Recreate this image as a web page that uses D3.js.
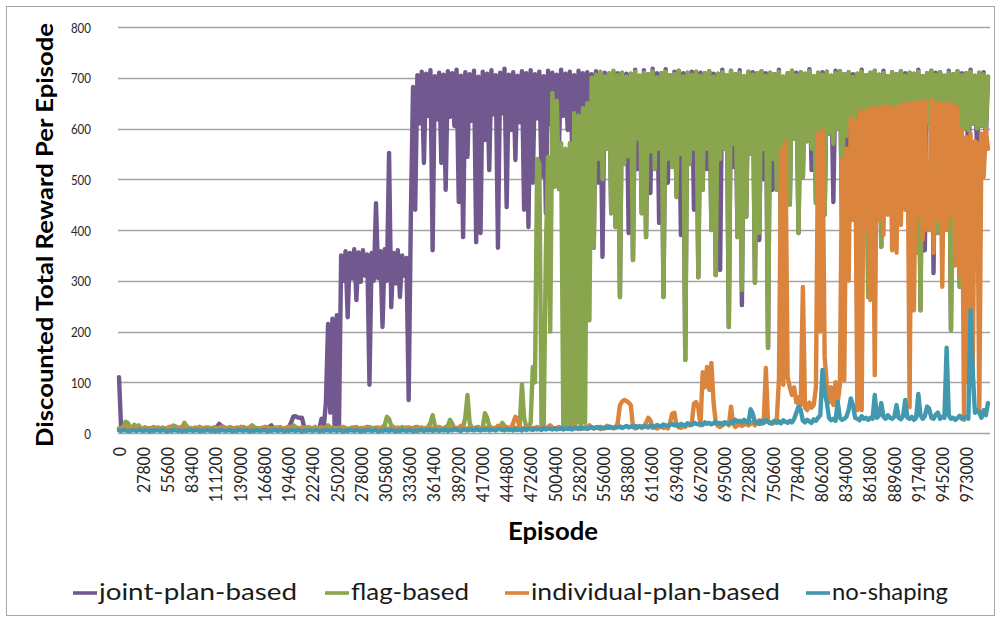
<!DOCTYPE html>
<html>
<head>
<meta charset="utf-8">
<script src="https://cdn.jsdelivr.net/npm/d3@7"></script>
<style>
  html, body { margin: 0; padding: 0; background: #fff; }
  svg { display: block; font-family: Lato, "Open Sans", "DejaVu Sans", sans-serif; }
</style>
</head>
<body>
<svg id="chart" width="1000" height="622"></svg>
<script>
// ---- data: discounted total reward per episode, one sample every 2500 episodes ----
const seriesNames = ["joint-plan-based", "flag-based", "individual-plan-based", "no-shaping"];
const seriesColors = ["#71588F", "#89A54E", "#DB843D", "#4198AF"];
const episodeStep = 2500;

const jointPlanBased = [
  110, 6, 8, 7, 6, 9, 10, 7, 7, 8, 9, 6, 6, 8, 8, 10, 10, 7, 7, 9,
  9, 8, 6, 7, 8, 9, 7, 6, 11, 9, 6, 8, 9, 7, 8, 10, 7, 6, 10, 8,
  6, 8, 9, 7, 8, 12, 18, 14, 12, 8, 7, 9, 9, 6, 6, 8, 8, 9, 10, 7,
  7, 8, 9, 6, 6, 8, 8, 9, 7, 12, 15, 8, 9, 7, 6, 8, 8, 9, 12, 20,
  32, 33, 31, 30, 30, 12, 8, 7, 6, 9, 10, 8, 9, 28, 9, 60,
  215, 40, 225, 10, 232, 8, 350, 300,
  358, 228, 355, 305, 362, 262, 356, 298, 360, 310,
  352, 95, 355, 300, 453, 305, 358, 209, 362, 300,
  552, 248, 355, 295, 360, 268, 350, 310, 345, 65, 425,
  682, 440, 705, 610, 712, 532, 708, 625, 715, 360,
  703, 618, 710, 532, 706, 479, 713, 623, 709, 605,
  716, 455, 704, 386, 711, 544, 707, 615, 714, 376,
  702, 394, 712, 577, 708, 518, 715, 628, 705, 365,
  710, 630, 718, 445, 706, 597, 711, 538, 704, 612,
  713, 440, 709, 406, 715, 493, 707, 620, 712, 505,
  703, 433, 714, 608, 710, 505, 706, 563, 716, 625,
  708, 597, 712, 571, 705, 440, 714, 630, 709, 591,
  711, 615, 707, 365, 713, 493, 705, 347, 710, 560,
  708, 433, 712,
  406, 709, 268, 710, 530, 708, 394, 708, 341, 716,
  520, 704, 433, 715, 386, 707, 473, 718, 520, 709,
  414, 709, 268, 717, 493, 705, 524, 712, 465, 714,
  390, 709, 144, 710, 530, 712, 440, 712, 307, 710,
  479, 709, 520, 713, 400, 708, 311, 708, 321, 716,
  560, 705, 209, 714, 524, 707, 386, 715, 252, 703,
  426, 712, 550, 711, 296, 709, 380, 713, 500, 709,
  168, 710, 479, 707, 479, 716, 374, 702, 520, 709,
  450, 714, 580, 710, 394, 711, 504, 708, 575, 717,
  518, 703, 453, 710, 490, 711, 430, 712, 590, 704,
  455, 714, 600, 713, 420, 707, 449, 711, 600, 707,
  590, 708, 610, 716, 595, 705, 268, 710, 600, 714,
  590, 706, 367, 714, 610, 703, 595, 711, 479, 707,
  600, 713, 615, 709, 590, 710, 605, 708, 355, 716,
  242, 703, 360, 709, 610, 714, 315, 710, 394, 711,
  600, 704, 433, 714, 203, 707, 610, 713, 288, 709,
  600, 709, 514, 716, 610, 704, 552, 710, 605, 711,
  577, 702
];

const flagBased = [
  9, 10, 12, 22, 20, 12, 10, 16, 12, 15, 10, 9, 11, 8, 10, 9, 12, 8, 10, 9,
  11, 8, 10, 9, 12, 15, 13, 10, 8, 11, 20, 14, 9, 10, 8, 11, 9, 12, 8, 10,
  9, 11, 8, 10, 12, 9, 10, 8, 11, 9, 10, 12, 8, 9, 11, 10, 8, 12, 9, 10,
  11, 15, 12, 9, 10, 8, 11, 9, 12, 10, 8, 9, 11, 10, 12, 8, 9, 11, 10, 9,
  15, 12, 9, 10, 8, 11, 9, 12, 10, 8, 11, 9, 10, 12, 8, 10, 15, 11, 9, 10,
  8, 11, 9, 12, 10, 8, 9, 11, 10, 12, 8, 10, 9, 11, 8, 12, 10, 9, 11, 8,
  10, 12, 15, 32, 28, 14, 10, 9, 11, 8, 12, 10, 9, 11, 10, 8, 12, 9, 10, 11,
  8, 10, 12, 20, 35, 15, 9, 11, 10, 8, 12, 14, 26, 18, 10, 9, 11, 8, 12, 30,
  75, 20, 10, 9, 11, 12, 8, 10, 39, 30, 14, 10, 9, 11, 8, 12, 20, 14, 10, 9,
  11, 12, 10, 9, 14, 96, 30, 12, 10,
  20, 130, 100, 540, 530, 15, 12, 360, 544, 200,
  670, 485, 655, 480, 571, 12, 560, 10, 571, 15,
  630, 20, 625, 12, 640, 20, 650, 222, 700,
  367, 706, 540, 712, 500, 703, 560, 709, 433, 714,
  406, 705, 268, 710, 530, 702, 545, 708, 341, 712,
  580, 704, 433, 710, 386, 707, 555, 713, 520, 701,
  560, 709, 268, 712, 540, 705, 524, 708, 465, 714,
  550, 703, 144, 710, 530, 706, 560, 712, 307, 704,
  479, 709, 560, 713, 400, 702, 311, 708, 540, 711,
  560, 705, 209, 714, 570, 707, 386, 710, 282, 703,
  426, 712, 550, 706, 296, 709, 394, 713, 560, 704,
  168, 710, 540, 707, 479, 712, 374, 702, 565, 709,
  450, 714, 580, 705, 394, 711, 504, 708, 575, 713,
  560, 703, 453, 710, 580, 706, 430, 712, 590, 704,
  570, 709, 600, 713, 420, 707, 585, 711, 600, 702,
  590, 708, 610, 712, 595, 705, 268, 710, 600, 714,
  590, 706, 367, 709, 610, 703, 595, 711, 479, 707,
  600, 713, 615, 704, 590, 710, 605, 708, 355, 712,
  242, 703, 600, 709, 610, 714, 595, 706, 394, 711,
  600, 704, 433, 710, 203, 707, 610, 713, 288, 705,
  600, 709, 597, 712, 610, 704, 600, 710, 605, 707,
  600, 702
];

const individualPlanBased = [
  8, 7, 10, 12, 6, 8, 9, 7, 11, 7, 8, 6, 11, 8, 6, 9, 7, 8, 11, 6,
  8, 7, 9, 12, 7, 6, 8, 9, 10, 8, 7, 11, 6, 8, 9, 7, 8, 12, 7, 6,
  11, 7, 6, 8, 9, 7, 8, 12, 7, 9, 6, 8, 10, 9, 7, 8, 12, 6, 8, 7,
  9, 11, 6, 8, 7, 9, 8, 12, 7, 6, 9, 8, 7, 11, 8, 6, 9, 7, 12, 8,
  6, 9, 8, 7, 11, 6, 8, 9, 7, 8, 12, 7, 6, 9, 8, 11, 7, 8, 6, 9,
  8, 7, 9, 12, 8, 6, 7, 9, 11, 8, 7, 6, 9, 8, 12, 7, 8, 6, 9, 11,
  7, 8, 6, 9, 8, 7, 12, 9, 8, 6, 7, 9, 11, 8, 6, 9, 7, 12, 8, 7,
  9, 8, 6, 11, 8, 7, 9, 12, 8, 6, 9, 7, 8, 11, 9, 8, 7, 14, 10, 9,
  8, 12, 9, 7, 8, 10, 6, 9, 11, 8, 7, 10, 9, 8, 14, 10, 8, 9, 12, 10,
  9, 20, 32, 28, 10, 9, 8, 12, 9, 8, 10, 9, 12, 10, 9, 8, 10, 12, 15, 11,
  9, 10, 12, 8, 10, 9, 11, 8, 10, 14, 9, 10, 8, 11, 9, 12, 15, 10, 9, 11,
  12, 8, 10, 9, 14, 10, 12, 9, 10, 20, 55, 62, 65, 63, 60, 55, 12, 9, 11, 14,
  10, 12, 20, 30, 25, 10, 12, 9, 11, 14, 10, 12, 9, 20, 38, 40, 15, 11, 10, 13,
  12, 18, 15, 20, 58, 61, 50, 15, 120, 90, 130, 85, 138, 60, 20, 14, 12, 15, 18, 20,
  15, 52, 18, 12, 15, 18, 14, 16, 20, 15, 18, 22, 15, 20, 25, 18, 20, 128, 22, 20,
  18, 22, 25, 104, 560, 95, 573, 110, 90, 75, 90, 60, 70, 55, 288, 50, 45, 60, 50, 55,
  90, 590, 200, 597, 150, 95, 60, 90, 55, 100, 60, 95,
  540, 104, 560, 300, 623, 420, 615, 45, 636, 45,
  630, 400, 638, 262, 640, 114, 642, 420, 640, 390,
  645, 430, 642, 360, 640, 355, 645, 410, 648, 440,
  650, 51, 648, 242, 652, 430, 650, 380, 655, 400,
  400, 656, 355, 650, 420, 648, 288, 650,
  400, 648, 430, 645, 330, 640, 310, 597, 26, 583,
  100, 590, 120, 575, 571, 45, 590, 504, 597, 560
];

const noShaping = [
  5, 4, 6, 5, 4, 3, 6, 5, 4, 6, 5, 4, 5, 6, 3, 5, 4, 6, 5, 4,
  6, 5, 3, 5, 4, 6, 5, 4, 6, 3, 5, 4, 6, 5, 4, 5, 6, 3, 5, 4,
  6, 5, 4, 6, 3, 5, 4, 6, 5, 4, 5, 6, 3, 5, 4, 6, 5, 4, 6, 5,
  3, 5, 4, 6, 5, 4, 5, 6, 3, 5, 4, 6, 5, 4, 6, 5, 3, 5, 4, 6,
  5, 4, 6, 5, 3, 5, 4, 6, 5, 4, 5, 6, 3, 5, 4, 6, 5, 4, 6, 5,
  4, 6, 5, 3, 5, 4, 6, 5, 4, 6, 5, 3, 5, 4, 6, 5, 4, 5, 6, 3,
  5, 4, 6, 5, 4, 6, 5, 3, 5, 4, 6, 5, 4, 5, 6, 3, 5, 4, 6, 5,
  4, 6, 5, 7, 4, 6, 5, 4, 6, 5, 7, 4, 6, 5, 8, 6, 5, 4, 7, 6,
  5, 7, 6, 5, 8, 6, 5, 7, 6, 8, 5, 7, 6, 5, 8, 7, 6, 5, 8, 6,
  7, 5, 8, 6, 7, 5, 9, 6, 8, 7, 6, 9, 7, 8, 6, 10, 7, 9, 8, 7,
  9, 7, 8, 10, 7, 9, 8, 10, 7, 9, 11, 8, 10, 9, 11, 8, 10, 12, 9, 11,
  10, 12, 9, 11, 10, 13, 11, 10, 12, 11, 13, 10, 12, 14, 11, 13, 12, 14, 11, 13,
  12, 14, 13, 11, 15, 13, 12, 16, 14, 13, 17, 15, 14, 16, 18, 15, 17, 14, 18, 16,
  15, 19, 17, 16, 20, 18, 17, 19, 16, 21, 18, 20, 17, 19, 22, 18, 20, 17, 21, 19,
  18, 22, 20, 26, 22, 24, 21, 26, 22, 20, 47, 38, 20, 22, 18, 24, 20, 26, 22, 19,
  21, 24, 20, 23, 19, 25, 22, 20, 24, 21, 28, 40, 52, 45, 24, 21, 26, 23, 20, 27,
  24, 30, 35, 124, 80, 60, 30, 25, 28, 24, 61, 30, 26, 28, 32, 45, 68, 55, 30, 28,
  25, 33, 28, 30, 26, 30, 28, 75, 30, 35, 59, 32, 28, 35, 30, 28, 32, 55, 30, 27,
  33, 65, 30, 28, 32, 26, 30, 77, 35, 28, 33, 52, 48, 30, 28, 36, 40, 28, 32, 30,
  168, 35, 28, 30, 26, 30, 34, 28, 30, 32, 28, 242, 120, 40, 45, 40, 30, 45, 35, 59
];

const xTickLabels = [0, 27800, 55600, 83400, 111200, 139000, 166800, 194600, 222400,
  250200, 278000, 305800, 333600, 361400, 389200, 417000, 444800, 472600, 500400,
  528200, 556000, 583800, 611600, 639400, 667200, 695000, 722800, 750600, 778400,
  806200, 834000, 861800, 889600, 917400, 945200, 973000];
const yTickLabels = [0, 100, 200, 300, 400, 500, 600, 700, 800];

// ---- drawing ----
const svg = d3.select("#chart");
const W = 1000, H = 622;
const plot = { left: 119, right: 988, top: 27, bottom: 433, gridRight: 990 };

const allSeries = [jointPlanBased, flagBased, individualPlanBased, noShaping];
const lastEpisode = (d3.max(allSeries, s => s.length) - 1) * episodeStep;

const x = d3.scaleLinear().domain([0, lastEpisode]).range([plot.left, plot.right]);
const y = d3.scaleLinear().domain([0, 800]).range([plot.bottom, plot.top]);

svg.append("rect").attr("width", W).attr("height", H).attr("fill", "#fff");
// outer chart frame
svg.append("rect")
  .attr("x", 6.5).attr("y", 6.5).attr("width", 988).attr("height", 609)
  .attr("fill", "none").attr("stroke", "#a6a6a6").attr("stroke-width", 1);

// horizontal gridlines
svg.append("g").selectAll("line")
  .data(yTickLabels.filter(v => v > 0))
  .join("line")
  .attr("x1", plot.left - 1).attr("x2", plot.gridRight)
  .attr("y1", d => Math.round(y(d)) + 0.5).attr("y2", d => Math.round(y(d)) + 0.5)
  .attr("stroke", "#a3a3a3").attr("stroke-width", 1.3);

// y axis labels
const yAxis = d3.axisLeft(y).tickValues(yTickLabels).tickSize(0).tickPadding(0);
const gy = svg.append("g").attr("transform", "translate(91,0)").call(yAxis);
gy.select(".domain").remove();
gy.selectAll("text")
  .attr("font-family", "Lato, sans-serif").attr("font-size", 14).attr("fill", "#262626")
  .attr("dy", "0.36em")
  .attr("textLength", d => String(d).length * 6.7).attr("lengthAdjust", "spacingAndGlyphs");

// x axis baseline
svg.append("line")
  .attr("x1", plot.left - 1).attr("x2", plot.gridRight)
  .attr("y1", plot.bottom + 0.5).attr("y2", plot.bottom + 0.5)
  .attr("stroke", "#a3a3a3").attr("stroke-width", 1.3);

// x axis labels (rotated)
const xAxis = d3.axisBottom(x).tickValues(xTickLabels).tickSize(0).tickFormat(d => String(d));
const gx = svg.append("g").attr("transform", `translate(0,${plot.bottom})`).call(xAxis);
gx.select(".domain").remove();
gx.selectAll("text")
  .attr("font-family", "Lato, sans-serif").attr("font-size", 17).attr("fill", "#262626")
  .attr("text-anchor", "end")
  .attr("transform", "translate(0,14) rotate(-90)")
  .attr("x", 0).attr("y", 0).attr("dy", "0.36em")
  .attr("textLength", d => String(d).length * 9.2).attr("lengthAdjust", "spacingAndGlyphs");

// series lines, drawn in series order so later series sit on top
const line = d3.line()
  .x((d, i) => x(i * episodeStep))
  .y(d => y(d));

svg.append("g")
  .selectAll("path")
  .data(allSeries)
  .join("path")
  .attr("d", d => line(d))
  .attr("fill", "none")
  .attr("stroke", (d, i) => seriesColors[i])
  .attr("stroke-width", 4.4)
  .attr("stroke-linejoin", "round")
  .attr("stroke-linecap", "round");

// axis titles
svg.append("text")
  .attr("transform", "translate(53,235) rotate(-90)")
  .attr("text-anchor", "middle")
  .attr("font-family", "Lato, sans-serif").attr("font-weight", 700).attr("font-size", 22)
  .attr("textLength", 424).attr("lengthAdjust", "spacingAndGlyphs")
  .text("Discounted Total Reward Per Episode");

svg.append("text")
  .attr("x", 553).attr("y", 540)
  .attr("text-anchor", "middle")
  .attr("font-family", "Lato, sans-serif").attr("font-weight", 700).attr("font-size", 25)
  .attr("textLength", 90).attr("lengthAdjust", "spacingAndGlyphs")
  .text("Episode");

// legend
const legendLayout = [
  { lineX: 73, textLen: 198 },
  { lineX: 325, textLen: 118 },
  { lineX: 505, textLen: 249 },
  { lineX: 806, textLen: 116 }
];
const legend = svg.append("g");
seriesNames.forEach((name, i) => {
  const lx = legendLayout[i].lineX;
  legend.append("line")
    .attr("x1", lx).attr("x2", lx + 24).attr("y1", 593).attr("y2", 593)
    .attr("stroke", seriesColors[i]).attr("stroke-width", 3.6);
  legend.append("text")
    .attr("x", lx + 26).attr("y", 600)
    .attr("font-family", "Lato, sans-serif").attr("font-size", 24).attr("fill", "#1a1a1a")
    .attr("textLength", legendLayout[i].textLen).attr("lengthAdjust", "spacingAndGlyphs")
    .text(name);
});
</script>
</body>
</html>
